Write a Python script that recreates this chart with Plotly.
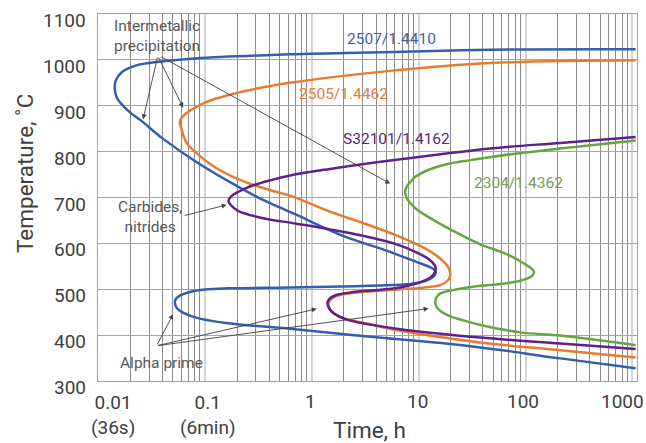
import math
import plotly.graph_objects as go

# ---------------- data (time in hours, temperature in °C) ----------------
t_2507 = [1072, 46.9, 5.42, 0.627, 0.0805, 0.0393, 0.0221, 0.01667, 0.01466, 0.01434,
          0.01496, 0.01667, 0.0198, 0.0255, 0.0393, 0.0805, 0.191, 0.342, 0.697, 1.965,
          5.08, 9.91, 13.12, 14.45, 13.71, 11.27, 8.34, 4.86, 2.64, 0.627,
          0.165, 0.100, 0.0722, 0.0583, 0.0529, 0.0524, 0.0534, 0.0583, 0.0694, 0.0897,
          0.165, 0.697, 2.64, 30.5, 212, 1072]
T_2507 = [1023, 1022, 1017, 1012, 1003, 996.5, 987, 973, 955, 938,
          918, 903, 886, 867, 830.5, 779.7, 727.5, 695.9, 663.6, 616.3,
          583.6, 558, 547, 538, 527, 517.5, 511.5, 508.5, 506.7, 503.7,
          502, 499.5, 494, 486, 477, 471, 463, 453, 444, 436,
          426, 413, 399, 376, 349.3, 328]

t_2505 = [1072, 46.9, 5.42, 0.627, 0.237, 0.100, 0.0722, 0.0608, 0.0583, 0.0603,
          0.0635, 0.0694, 0.0805, 0.124, 0.237, 0.453, 0.627, 1.485, 2.64, 6.27,
          11.27, 15.9, 18.9, 19.8, 18.5, 15.9, 10.35, 6.73, 2.29, 1.69,
          1.469, 1.437, 1.517, 1.763, 2.29, 3.52, 6.73, 37.8, 212, 1072]
T_2505 = [999, 993, 976, 950, 932, 907, 889, 874, 864, 850,
          832, 815, 800, 766, 734, 713, 704, 669, 649, 617,
          590, 567, 548, 531, 518, 509, 503, 500.2, 491.5, 485,
          475, 464, 453, 441, 433, 423.5, 409.4, 384, 367, 351]

t_s32101 = [1072, 212, 46.9, 5.42, 1.485, 0.627, 0.406, 0.264, 0.204, 0.1754,
            0.166, 0.1754, 0.204, 0.342, 0.697, 1.485, 3.05, 6.04, 9.64, 12.57,
            14.16, 14.45, 13.84, 12.30, 9.91, 6.73, 2.29, 1.72, 1.49, 1.405,
            1.422, 1.53, 1.81, 2.29, 6.73, 37.8, 212, 1072]
T_s32101 = [832, 819, 807, 780.6, 762.3, 748.1, 737.3, 724, 712, 702,
            693, 683, 671, 655.5, 643.5, 630.5, 616.4, 599, 580, 565,
            552, 544, 533, 523, 514, 504, 493, 488, 481, 472,
            463, 452, 441, 431.5, 413, 394.8, 381.7, 369.5]

t_2304 = [1072, 212, 77.1, 46.9, 30.5, 17.8, 12.3, 9.29, 8.16, 7.57,
          7.48, 7.73, 8.34, 9.50, 12.85, 18.4, 37.8, 58.2, 77.1, 95.5,
          111.2, 119.9, 116.1, 104.2, 85.8, 58.2, 37.8, 24.5, 15.9, 14.62,
          14.32, 14.79, 16.3, 19.8, 27.4, 37.8, 89.5, 212, 1072]
T_2304 = [824.4, 807, 795, 788, 781.5, 772, 760, 745, 731, 719,
          711, 699, 688, 675, 655, 634.4, 598, 582, 569.5, 557,
          547, 539, 530, 523.5, 517.5, 511.5, 507.4, 501, 490.5, 482,
          471, 461, 451, 441, 431, 422, 406, 399, 378]

series_names = ["2507/1.4410", "2505/1.4462", "S32101/1.4162", "2304/1.4362"]
series_t = [t_2507, t_2505, t_s32101, t_2304]
series_T = [T_2507, T_2505, T_s32101, T_2304]
series_colors = ["#3060AD", "#E97B2E", "#5F1F8F", "#62A83E"]
label_colors = ["#3D62A6", "#D9823F", "#5A2684", "#6FA34E"]
# label anchor points (hours, °C)
label_t = [5.53, 1.98, 6.27, 86.3]
label_T = [1045, 925, 827, 732.5]

x_ticks = [0.01, 0.1, 1, 10, 100, 1000]
x_ticklabels = ["0.01<br>(36s)", "0.1<br>(6min)", "1", "10", "100", "1000"]
y_ticks = [300, 400, 500, 600, 700, 800, 900, 1000, 1100]

# ---------------- figure ----------------
W, H = 646, 443
L, R, Tm, B = 98, 9, 14, 62
pw, ph = W - L - R, H - Tm - B
FONT = "Roboto"
TICKC = "#404040"
TXT = "#595959"

fig = go.Figure()
for name, t, T, c in zip(series_names, series_t, series_T, series_colors):
    fig.add_trace(go.Scatter(x=t, y=T, mode="lines", name=name,
                             line=dict(color=c, width=2.5, shape="spline", smoothing=1.0),
                             hoverinfo="skip", showlegend=False))

ann = []
for name, lt, lT, lc in zip(series_names, label_t, label_T, label_colors):
    ann.append(dict(x=math.log10(lt), y=lT, xref="x", yref="y", text=name, showarrow=False,
                    font=dict(family=FONT, size=15.5, color=lc)))

# x tick labels
x_shift = [14.7, 3, -1.7, -1, -2.6, -9.8]
for v, lab, sh in zip(x_ticks, x_ticklabels, x_shift):
    two = "<br>" in lab
    ann.append(dict(x=math.log10(v), y=0, xref="x", yref="paper", text=lab, showarrow=False,
                    xanchor="center", yanchor="middle", xshift=sh,
                    yshift=-34 if two else -20.5,
                    font=dict(family=FONT, size=19, color=TICKC)))

# y tick labels
for v in y_ticks:
    ann.append(dict(x=0, y=v, xref="paper", yref="y", text=str(v), showarrow=False,
                    xanchor="right", yanchor="middle", xshift=-10.5, yshift=-6.5,
                    font=dict(family=FONT, size=19, color=TICKC)))

# axis titles
ann.append(dict(x=(369 - L) / pw, y=(H - B - 430) / ph, xref="paper", yref="paper",
                text="Time, h", showarrow=False, xanchor="center", yanchor="middle",
                font=dict(family=FONT, size=22.5, color=TICKC)))
ann.append(dict(x=(25 - L) / pw, y=(H - B - 174) / ph, xref="paper", yref="paper",
                text="Temperature, ˚C", showarrow=False, textangle=-90,
                xanchor="center", yanchor="middle",
                font=dict(family=FONT, size=22.5, color=TICKC)))


def lgx(px):
    return (px - 98.3) / 106.7 - 2


def ty(py):
    return 300 + (380.2 - py) / 0.459


ann.append(dict(x=lgx(156.7), y=ty(35), xref="x", yref="y", text="Intermetallic<br>precipitation",
                showarrow=False, font=dict(family=FONT, size=15.5, color=TXT)))
ann.append(dict(x=lgx(150), y=ty(216), xref="x", yref="y", text="Carbides,<br>nitrides",
                showarrow=False, font=dict(family=FONT, size=15.5, color=TXT)))
ann.append(dict(x=lgx(161.7), y=ty(361.7), xref="x", yref="y", text="Alpha prime",
                showarrow=False, font=dict(family=FONT, size=15.5, color=TXT)))

arrows = [((158, 55), (143.3, 118.3)), ((158, 55), (183.3, 106.7)), ((160, 55), (390, 182.7)),
          ((183.3, 215), (226.7, 204)),
          ((156.7, 345), (173.3, 313.3)), ((156.7, 345), (316.7, 308)), ((156.7, 345), (428.3, 307.7))]
for (tx, tyy), (hx, hy) in arrows:
    ann.append(dict(x=lgx(hx), y=ty(hy), ax=lgx(tx), ay=ty(tyy), xref="x", yref="y",
                    axref="x", ayref="y", text="", showarrow=True, arrowhead=2,
                    arrowsize=1.1, arrowwidth=0.9, arrowcolor="#404040", standoff=0))

fig.update_layout(
    width=W, height=H, margin=dict(l=L, r=R, t=Tm, b=B),
    paper_bgcolor="white", plot_bgcolor="white", showlegend=False,
    font=dict(family=FONT, color=TICKC),
    annotations=ann,
)
fig.update_xaxes(type="log", range=[-2, 3.043], dtick=1, showgrid=True, gridcolor="#d4d4d4",
                 gridwidth=1.5, showticklabels=False, ticks="", zeroline=False,
                 showline=True, linecolor="#a0a0a0", linewidth=1.2, mirror=True,
                 minor=dict(dtick="D1", showgrid=True, gridcolor="#8c8c8c", gridwidth=1, ticks=""))
fig.update_yaxes(range=[300, 1100], tickvals=y_ticks, showgrid=True, gridcolor="#a6a6a6",
                 gridwidth=1, ticks="", zeroline=False, showline=True, linecolor="#a0a0a0",
                 linewidth=1.2, mirror=True, showticklabels=False)

fig.write_html("out.html", config={"displayModeBar": False},
               post_script="document.body.style.margin='0px';")
